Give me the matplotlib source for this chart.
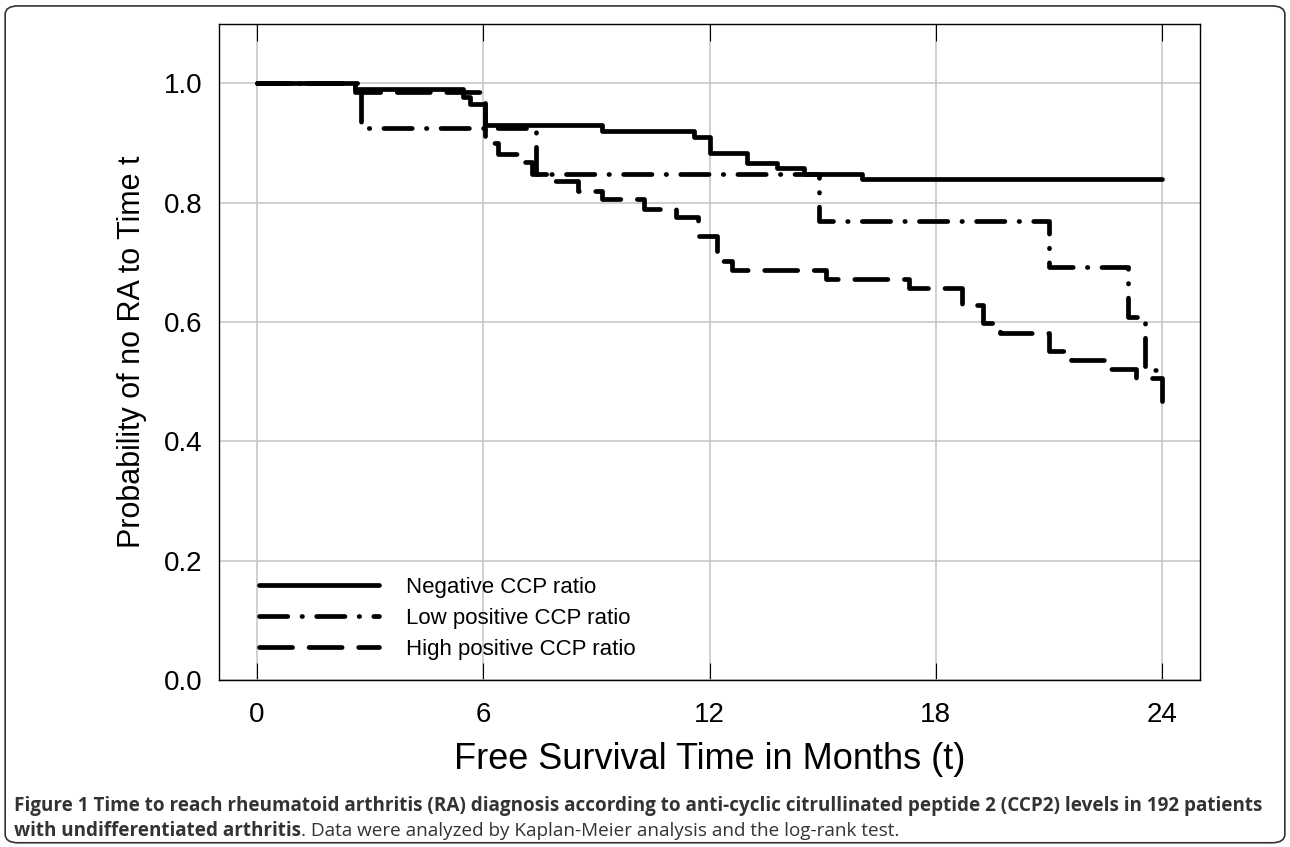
import matplotlib.pyplot as plt
from matplotlib.patches import FancyBboxPatch

# Datos (meses, probabilidad)
t_neg = [0, 2.6, 5.45, 5.65, 6.05, 9.15, 11.6, 12.0, 13.0, 13.8, 14.5, 16.05, 24]
s_neg = [1.0, 0.99, 0.977, 0.965, 0.93, 0.92, 0.91, 0.884, 0.866, 0.858, 0.849, 0.839, 0.839]

t_low = [0, 2.75, 7.4, 14.9, 21.0, 23.1, 23.55, 24]
s_low = [1.0, 0.925, 0.849, 0.769, 0.692, 0.608, 0.52, 0.52]

t_high = [0, 2.6, 6.05, 6.4, 6.9, 7.3, 7.9, 8.5, 9.15, 10.25, 11.1, 11.7, 12.2, 12.6, 15.1, 17.3,
          18.7, 19.25, 19.7, 21.0, 21.6, 22.45, 23.3, 24, 24]
s_high = [1.0, 0.985, 0.90, 0.882, 0.868, 0.849, 0.837, 0.82, 0.806, 0.79, 0.776, 0.745, 0.703,
          0.687, 0.673, 0.657, 0.628, 0.598, 0.581, 0.551, 0.536, 0.521, 0.506, 0.506, 0.457]

labels = ['Negative CCP ratio', 'Low positive CCP ratio', 'High positive CCP ratio']
xticks = [0, 6, 12, 18, 24]
yticks = [0.0, 0.2, 0.4, 0.6, 0.8, 1.0]

plt.rcParams['font.family'] = ['Liberation Sans', 'DejaVu Sans']

fig = plt.figure(figsize=(12.9, 8.47), dpi=100)
ax = fig.add_axes([0.170, 0.197, 0.760, 0.775])

# Marco redondeado de la figura
fig.patches.append(FancyBboxPatch((0.004, 0.005), 0.992, 0.988, boxstyle='round,pad=0,rounding_size=0.01',
                                  transform=fig.transFigure, fill=False, ec='#333333', lw=1.2))

kw = dict(where='post', color='black', lw=3.4, solid_capstyle='round', dash_capstyle='round')
ax.step(t_neg, s_neg, label=labels[0], **kw)
ax.step(t_low, s_low, label=labels[1], linestyle=(0, (6, 3, 0.1, 3)), **kw)
ax.step(t_high, s_high, label=labels[2], linestyle=(0, (7, 3.5)), **kw)

ax.set_xlim(-1, 25)
ax.set_ylim(0, 1.1)
ax.set_xticks(xticks)
ax.set_yticks(yticks)
ax.set_yticklabels(['%.1f' % v for v in yticks])
ax.grid(True, color='#c8c8c8', lw=1.2)
ax.tick_params(axis='x', direction='in', top=True, length=12, labelsize=20, pad=16)
ax.tick_params(axis='y', length=0, labelsize=20, pad=12)
for sp in ax.spines.values():
    sp.set_linewidth(1.0)

ax.set_xlabel('Free Survival Time in Months (t)', fontsize=26, labelpad=10)
ax.set_ylabel('Probability of no RA to Time t', fontsize=22, labelpad=12)

ax.legend(loc='lower left', bbox_to_anchor=(0.02, 0.0), frameon=False, fontsize=16,
          handlelength=5.4, handletextpad=1.2, labelspacing=0.45)

# Pie de figura
cap = dict(fontsize=13.6, color='#333333', family=['Open Sans', 'DejaVu Sans'])
fig.text(0.011, 0.043, 'Figure 1 Time to reach rheumatoid arthritis (RA) diagnosis according to anti-cyclic '
         'citrullinated peptide 2 (CCP2) levels in 192 patients', fontweight='bold', **cap)
t1 = fig.text(0.011, 0.013, 'with undifferentiated arthritis', fontweight='bold', **cap)
fig.canvas.draw()
bb = t1.get_window_extent().transformed(fig.transFigure.inverted())
fig.text(bb.x1, 0.013, '. Data were analyzed by Kaplan-Meier analysis and the log-rank test.', **cap)

fig.savefig('out.png', dpi=100)
